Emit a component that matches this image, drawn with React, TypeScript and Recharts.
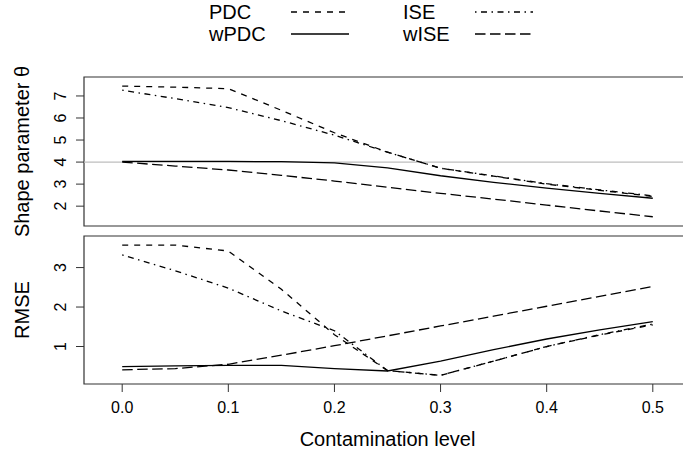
import { LineChart, Line, XAxis, YAxis, ReferenceLine, ReferenceArea, Legend } from 'recharts';

const levels = [0, 0.05, 0.1, 0.15, 0.2, 0.25, 0.3, 0.35, 0.4, 0.45, 0.5];

// shape parameter estimates (true value 4)
const thetaPDC = [7.45, 7.4, 7.33, 6.35, 5.33, 4.45, 3.72, 3.36, 3.0, 2.72, 2.44];
const thetaISE = [7.26, 6.88, 6.47, 5.88, 5.22, 4.45, 3.72, 3.37, 3.02, 2.74, 2.47];
const thetaWPDC = [4.03, 4.03, 4.03, 4.02, 3.96, 3.74, 3.38, 3.08, 2.82, 2.58, 2.36];
const thetaWISE = [4.0, 3.82, 3.64, 3.4, 3.14, 2.86, 2.58, 2.32, 2.05, 1.78, 1.52];

// RMSE
const rmsePDC = [3.57, 3.57, 3.42, 2.45, 1.3, 0.39, 0.27, 0.63, 1.0, 1.29, 1.55];
const rmseISE = [3.32, 2.92, 2.48, 1.9, 1.4, 0.39, 0.27, 0.63, 1.0, 1.3, 1.57];
const rmseWPDC = [0.49, 0.51, 0.52, 0.52, 0.44, 0.38, 0.63, 0.92, 1.19, 1.42, 1.63];
const rmseWISE = [0.41, 0.44, 0.55, 0.78, 1.02, 1.27, 1.52, 1.77, 2.02, 2.27, 2.52];

const xTicks = [0, 0.1, 0.2, 0.3, 0.4, 0.5];
const thetaTicks = [2, 3, 4, 5, 6, 7];
const rmseTicks = [1, 2, 3];

const FONT = '"Liberation Sans", Arial, Helvetica, sans-serif';
const X_DOMAIN: [number, number] = [-0.036, 0.536];
const THETA_DOMAIN: [number, number] = [1.1, 7.86];
const RMSE_DOMAIN: [number, number] = [0.05, 3.8];
const W = 700;
const H = 457;
const AXIS = '#333';

const series = [
  { key: 'PDC', dash: '6 6', col: 0, row: 0 },
  { key: 'wPDC', dash: undefined, col: 0, row: 1 },
  { key: 'ISE', dash: '1.5 4.5 6 4.5', col: 1, row: 0 },
  { key: 'wISE', dash: '10.5 4.5', col: 1, row: 1 },
];

const thetaData = levels.map((x, i) => ({
  x,
  PDC: thetaPDC[i],
  ISE: thetaISE[i],
  wPDC: thetaWPDC[i],
  wISE: thetaWISE[i],
}));

const rmseData = levels.map((x, i) => ({
  x,
  PDC: rmsePDC[i],
  ISE: rmseISE[i],
  wPDC: rmseWPDC[i],
  wISE: rmseWISE[i],
}));

function SideTick(props: any) {
  const { x, y, payload } = props;
  return (
    <text
      transform={`translate(${x},${y}) rotate(-90)`}
      textAnchor="middle"
      fontSize={16}
      fontFamily={FONT}
      fill="#000"
    >
      {payload.value}
    </text>
  );
}

function sideTitle(text: string) {
  return (p: any) => {
    const vb = p.viewBox;
    return (
      <text
        transform={`translate(${vb.x + 29},${vb.y + vb.height / 2}) rotate(-90)`}
        textAnchor="middle"
        fontSize={20}
        fontFamily={FONT}
        fill="#000"
      >
        {text}
      </text>
    );
  };
}

function bottomTitle(p: any) {
  const vb = p.viewBox;
  return (
    <text x={vb.x + vb.width / 2} y={vb.y + 62} textAnchor="middle" fontSize={20} fontFamily={FONT} fill="#000">
      Contamination level
    </text>
  );
}

function LegendBox() {
  const textX = [209, 403];
  const lineX = [291, 475];
  const rowY = [12, 34];
  return (
    <svg width={683} height={50} style={{ display: 'block' }}>
      {series.map((s) => (
        <g key={s.key}>
          <text x={textX[s.col]} y={rowY[s.row] + 7} fontSize={20} fontFamily={FONT} fill="#000">
            {s.key}
          </text>
          <line
            x1={lineX[s.col]}
            x2={lineX[s.col] + 58}
            y1={rowY[s.row]}
            y2={rowY[s.row]}
            stroke="#000"
            strokeWidth={1.3}
            strokeDasharray={s.dash}
          />
        </g>
      ))}
    </svg>
  );
}

function lines() {
  return series.map((s) => (
    <Line
      key={s.key}
      type="linear"
      dataKey={s.key}
      stroke="#000"
      strokeWidth={1.3}
      strokeDasharray={s.dash}
      dot={false}
      activeDot={false}
      isAnimationActive={false}
    />
  ));
}

export default function App() {
  return (
    <div style={{ position: 'absolute', left: 0, top: 0, width: 683, height: 457, overflow: 'hidden', background: '#fff' }}>
      <div style={{ position: 'absolute', left: 0, top: 0 }}>
        <LineChart width={W} height={H} data={thetaData} margin={{ top: 77, right: 9, bottom: 231, left: 0 }}>
          <XAxis
            type="number"
            dataKey="x"
            domain={X_DOMAIN}
            ticks={xTicks}
            interval={0}
            orientation="top"
            height={0}
            tick={false}
            tickSize={8}
            axisLine={false}
            tickLine={{ stroke: AXIS }}
            allowDataOverflow
          />
          <YAxis
            type="number"
            domain={THETA_DOMAIN}
            ticks={thetaTicks}
            interval={0}
            width={84}
            tickSize={8}
            tickMargin={10}
            axisLine={false}
            tickLine={{ stroke: AXIS }}
            tick={<SideTick />}
            allowDataOverflow
            label={{ content: sideTitle('Shape parameter θ') }}
          />
          <ReferenceArea
            x1={X_DOMAIN[0]}
            x2={X_DOMAIN[1]}
            y1={THETA_DOMAIN[0]}
            y2={THETA_DOMAIN[1]}
            fill="none"
            stroke={AXIS}
            strokeWidth={1.2}
            ifOverflow="visible"
          />
          <ReferenceLine y={4} stroke="#bebebe" strokeWidth={1.2} />
          {lines()}
          <Legend
            layout="horizontal"
            verticalAlign="middle"
            align="center"
            content={() => <LegendBox />}
            wrapperStyle={{ position: 'absolute', left: 0, top: 0, width: 683, height: 50 }}
          />
        </LineChart>
      </div>
      <div style={{ position: 'absolute', left: 0, top: 0 }}>
        <LineChart width={W} height={H} data={rmseData} margin={{ top: 236, right: 9, bottom: 0, left: 0 }}>
          <XAxis
            type="number"
            dataKey="x"
            domain={X_DOMAIN}
            ticks={xTicks}
            interval={0}
            height={73}
            tickSize={8}
            tickMargin={10}
            axisLine={false}
            tickLine={{ stroke: AXIS }}
            tick={{ fontSize: 16, fill: '#000', fontFamily: FONT }}
            tickFormatter={(v: number) => v.toFixed(1)}
            allowDataOverflow
            label={{ content: bottomTitle }}
          />
          <YAxis
            type="number"
            domain={RMSE_DOMAIN}
            ticks={rmseTicks}
            interval={0}
            width={84}
            tickSize={8}
            tickMargin={10}
            axisLine={false}
            tickLine={{ stroke: AXIS }}
            tick={<SideTick />}
            allowDataOverflow
            label={{ content: sideTitle('RMSE') }}
          />
          <ReferenceArea
            x1={X_DOMAIN[0]}
            x2={X_DOMAIN[1]}
            y1={RMSE_DOMAIN[0]}
            y2={RMSE_DOMAIN[1]}
            fill="none"
            stroke={AXIS}
            strokeWidth={1.2}
            ifOverflow="visible"
          />
          {lines()}
        </LineChart>
      </div>
    </div>
  );
}
